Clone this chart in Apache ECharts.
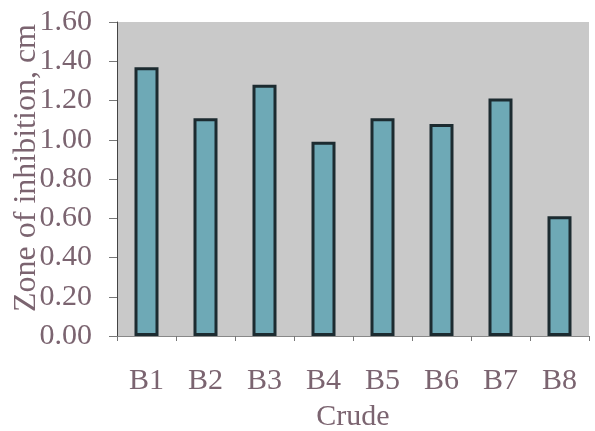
<!DOCTYPE html>
<html>
<head>
<meta charset="utf-8">
<script src="https://cdn.jsdelivr.net/npm/echarts@6/dist/echarts.min.js"></script>
<style>
html,body{margin:0;padding:0;background:#fff;}
#chart{width:595px;height:431px;}
</style>
</head>
<body>
<div id="chart"></div>
<script>
const categories = ['B1','B2','B3','B4','B5','B6','B7','B8'];
const values = [1.37, 1.11, 1.28, 0.99, 1.11, 1.08, 1.21, 0.61];
const yTicks = {min: 0, max: 1.6, interval: 0.2};

const textColor = '#7b6470';
const font = 'Liberation Serif';
const chart = echarts.init(document.getElementById('chart'), null, {renderer: 'canvas'});
chart.setOption({
  backgroundColor: '#ffffff',
  animation: false,
  grid: {left: 117, right: 6, top: 22, bottom: 95, show: true, backgroundColor: '#c9c9c9', borderWidth: 0,
    containLabel: false, outerBoundsMode: 'none'},
  xAxis: {
    type: 'category',
    data: categories,
    name: 'Crude',
    nameLocation: 'middle',
    nameGap: 66,
    nameMoveOverlap: false,
    nameTextStyle: {color: textColor, fontFamily: font, fontSize: 30},
    axisLine: {show: true, lineStyle: {color: '#888', width: 1}},
    axisTick: {show: true, length: 5, lineStyle: {color: '#777'}},
    axisLabel: {color: textColor, fontFamily: font, fontSize: 30, margin: 30},
    splitLine: {show: false}
  },
  yAxis: {
    type: 'value',
    min: yTicks.min, max: yTicks.max, interval: yTicks.interval,
    name: 'Zone of inhibition, cm',
    nameLocation: 'middle',
    nameGap: 74,
    nameMoveOverlap: false,
    nameRotate: 90,
    nameTextStyle: {color: textColor, fontFamily: font, fontSize: 32, padding: [0, 0, 0, 22]},
    axisLine: {show: true, lineStyle: {color: '#444', width: 1}},
    axisTick: {show: true, length: 8, lineStyle: {color: '#777'}},
    axisLabel: {color: textColor, fontFamily: font, fontSize: 30, margin: 25,
      formatter: v => v.toFixed(2)},
    splitLine: {show: false}
  },
  series: [{
    type: 'bar',
    data: values,
    barWidth: 24,
    itemStyle: {color: '#6ea9b6', borderColor: '#1c2b30', borderWidth: 3}
  }]
});
</script>
</body>
</html>
